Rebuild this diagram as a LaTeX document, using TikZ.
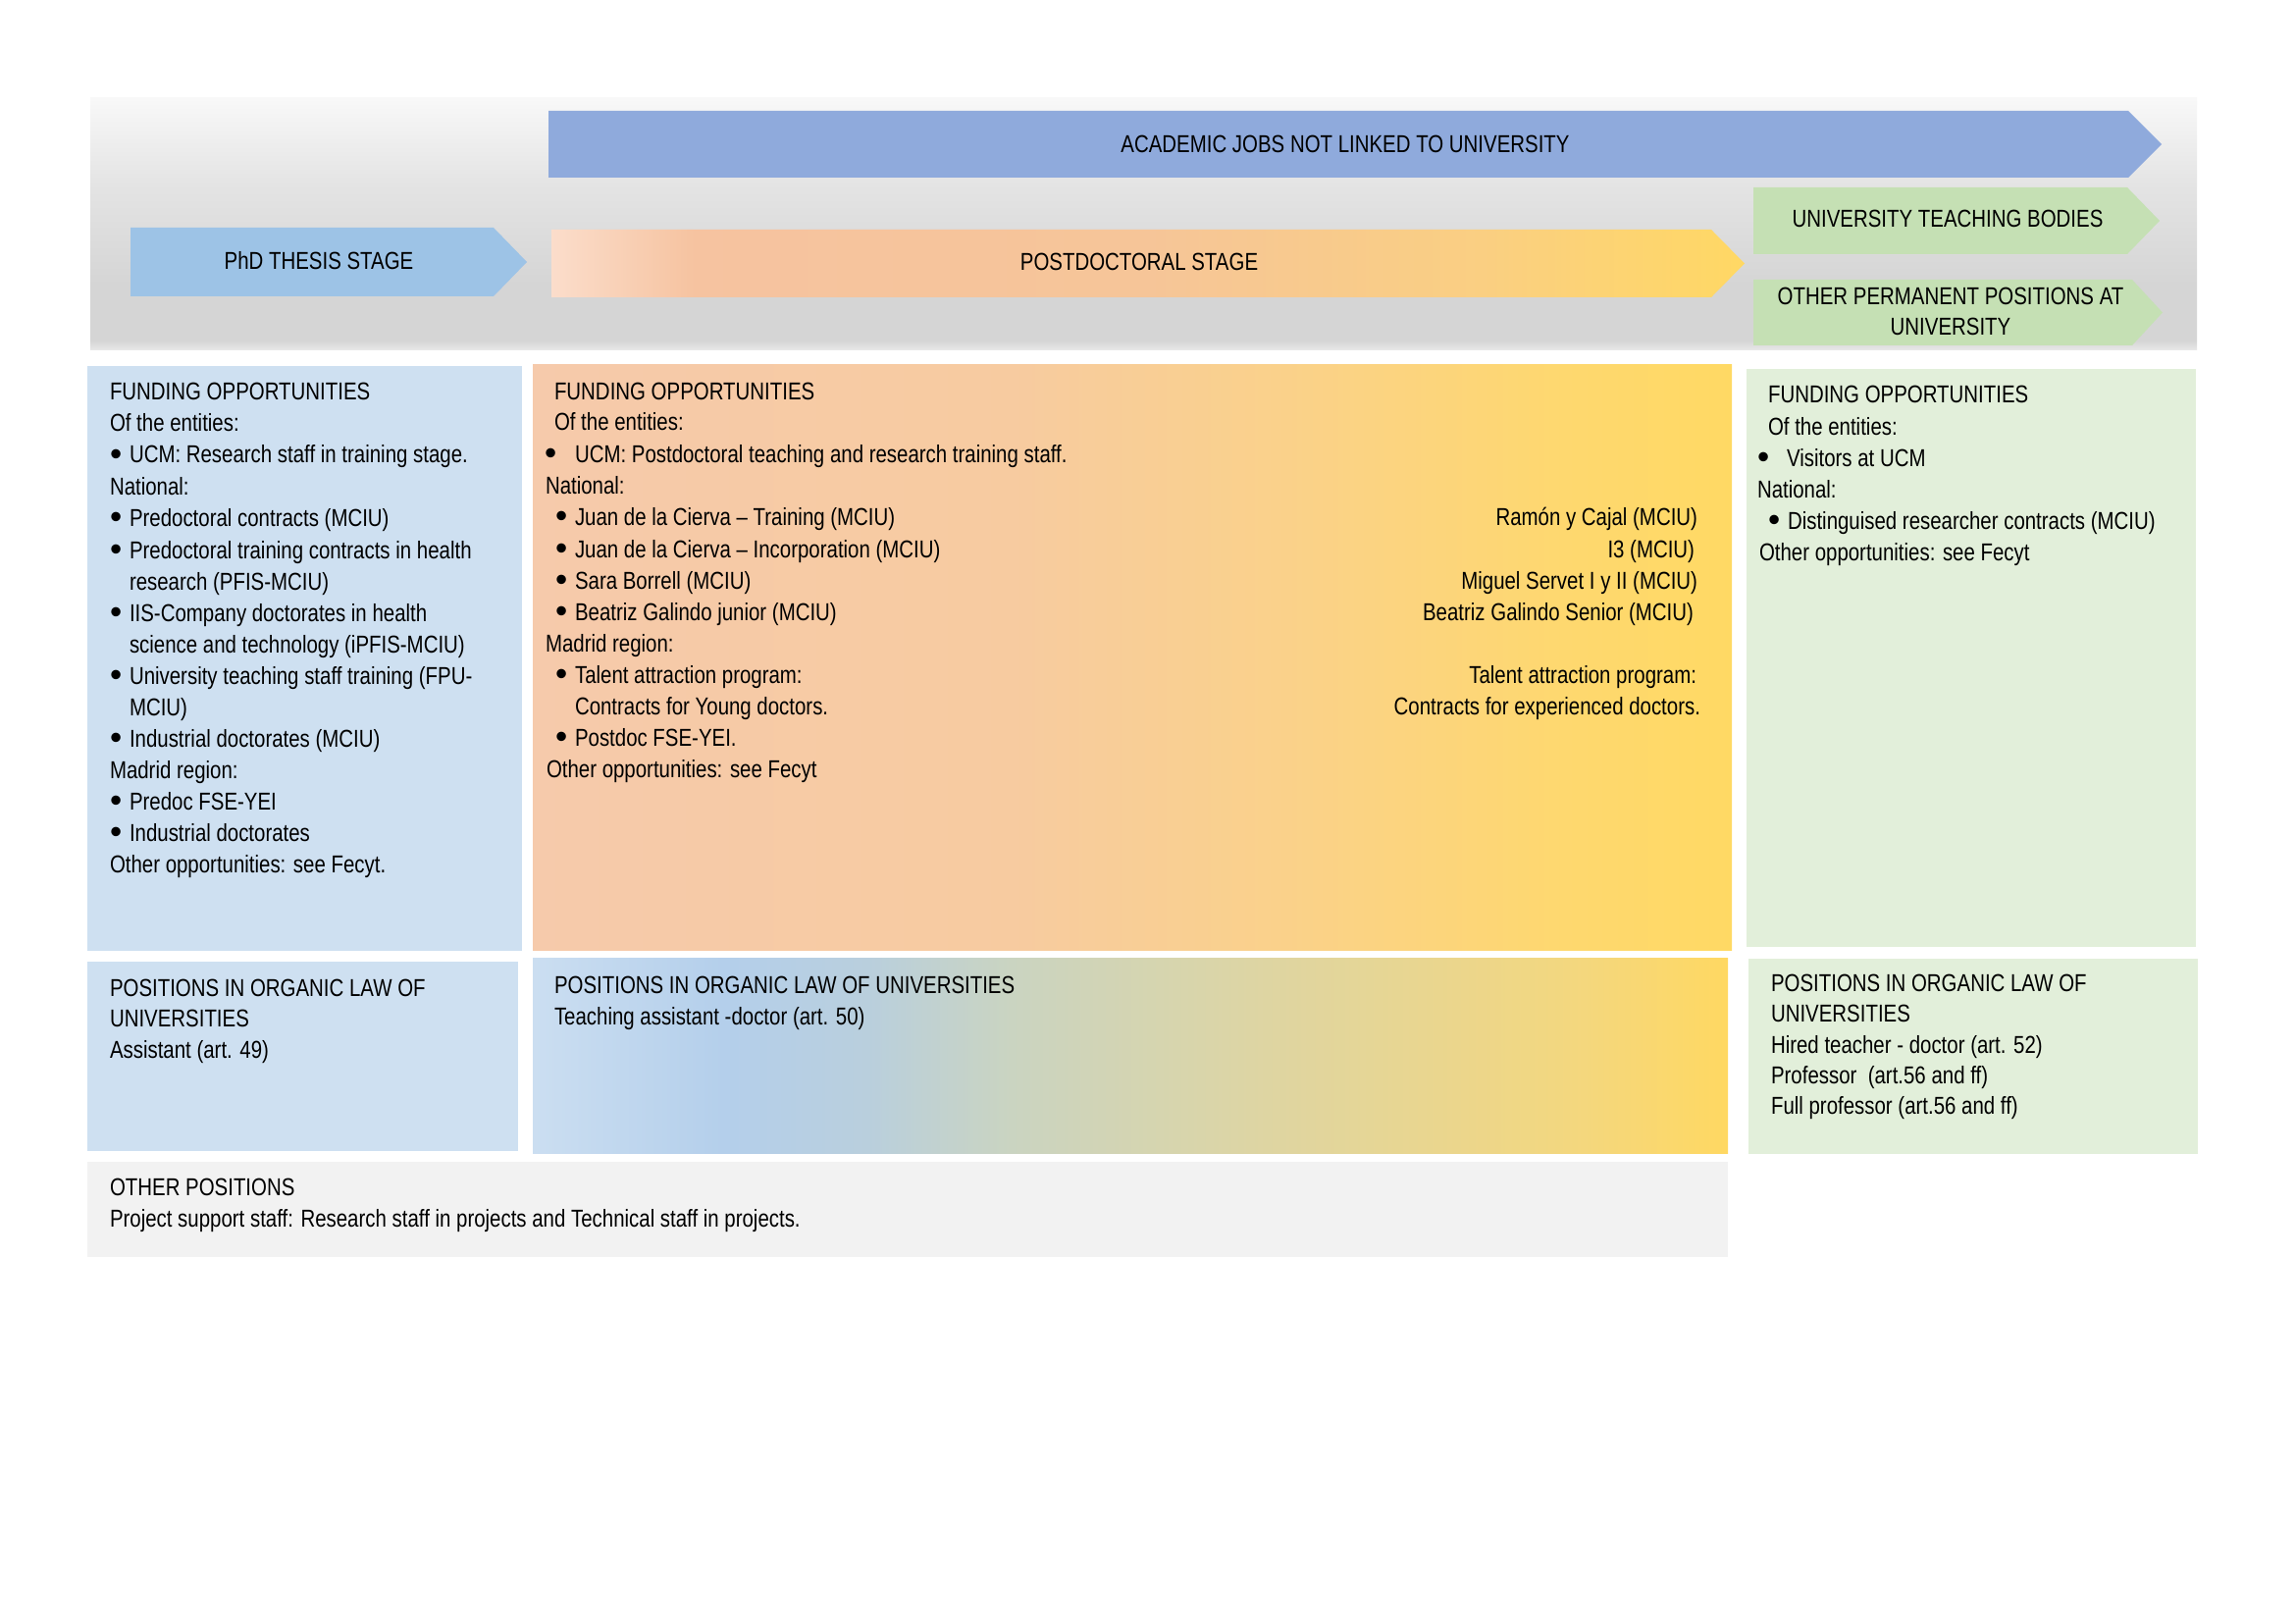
\documentclass[tikz,border=0pt]{standalone}
\usepackage{graphicx}
\usepackage{fontspec}
\setmainfont[FakeStretch=0.82]{Liberation Sans}
\definecolor{hTop}{HTML}{F8F8F8}
\definecolor{hMid}{HTML}{E4E4E4}
\definecolor{hDark}{HTML}{D5D5D5}
\definecolor{hBot}{HTML}{E9E9E9}
\definecolor{pdA}{HTML}{FBDDCB}
\definecolor{pdB}{HTML}{F6C3A0}
\definecolor{pdC}{HTML}{F6C598}
\definecolor{pdD}{HTML}{FACF82}
\definecolor{pdE}{HTML}{FFD864}
\definecolor{fbA}{HTML}{F6CAAB}
\definecolor{fbB}{HTML}{F7CBA0}
\definecolor{fbC}{HTML}{FAD18B}
\definecolor{fbD}{HTML}{FED86F}
\definecolor{fbE}{HTML}{FFD964}
\definecolor{pbA}{HTML}{CBDEF1}
\definecolor{pbB}{HTML}{B4CFEB}
\definecolor{pbC}{HTML}{B9CFDD}
\definecolor{pbD}{HTML}{CAD4C1}
\definecolor{pbE}{HTML}{DDD5A4}
\definecolor{pbF}{HTML}{F4D77D}
\definecolor{pbG}{HTML}{FFD862}
\definecolor{cAcad}{HTML}{8FAADC}
\definecolor{cPhd}{HTML}{9DC3E6}
\definecolor{cGreen}{HTML}{C5E0B4}
\definecolor{cBlueBox}{HTML}{CEE0F1}
\definecolor{cGreenBox}{HTML}{E2EFDA}
\definecolor{cGreyBox}{HTML}{F2F2F2}
\pgfdeclareverticalshading{hdrshade}{100bp}{color(0bp)=(hBot); color(25bp)=(hBot); color(27bp)=(hDark); color(38bp)=(hDark); color(58bp)=(hMid); color(75bp)=(hTop); color(100bp)=(hTop)}
\pgfdeclarehorizontalshading{pdshade}{100bp}{color(0bp)=(pdA); color(25bp)=(pdA); color(31bp)=(pdB); color(50bp)=(pdC); color(64bp)=(pdD); color(75bp)=(pdE); color(100bp)=(pdE)}
\pgfdeclarehorizontalshading{fbshade}{100bp}{color(0bp)=(fbA); color(25bp)=(fbA); color(45bp)=(fbB); color(56bp)=(fbC); color(68bp)=(fbD); color(75bp)=(fbE); color(100bp)=(fbE)}
\pgfdeclarehorizontalshading{pbshade}{100bp}{color(0bp)=(pbA); color(25bp)=(pbA); color(33bp)=(pbB); color(39bp)=(pbC); color(45bp)=(pbD); color(55bp)=(pbE); color(69bp)=(pbF); color(75bp)=(pbG); color(100bp)=(pbG)}
\newdimen\pxu \pxu=0.36129pt
\newcommand\bigbul{\raisebox{-0.9pt}{\scalebox{1.7}[1.4]{•}}}
\newcommand\bu[2]{\makebox[#1\pxu][l]{\bigbul}#2}
\begin{document}
\begin{tikzpicture}[x=0.012698cm,y=-0.012698cm,
  tx/.style={anchor=base west,inner sep=0pt,outer sep=0pt,font=\fontsize{9}{11.6}\selectfont,text=black},
  tr/.style={tx,anchor=base east},
  tc/.style={tx,anchor=base}]
\useasboundingbox (0,0) rectangle (2339,1654);
\fill[white] (0,0) rectangle (2339,1654);
% header background
\shade[shading=hdrshade] (92,100) rectangle (2239,357);
% arrows
\fill[cAcad] (559,113) -- (2169,113) -- (2203,147) -- (2169,181) -- (559,181) -- cycle;
\fill[cPhd] (133,232) -- (503,232) -- (537,267) -- (503,302) -- (133,302) -- cycle;
\shade[shading=pdshade] (562,234) -- (1744,234) -- (1778,268.5) -- (1744,303) -- (562,303) -- cycle;
\fill[cGreen] (1787,191) -- (2168,191) -- (2201,225) -- (2168,259) -- (1787,259) -- cycle;
\fill[cGreen] (1787,285) -- (2173,285) -- (2204,318.5) -- (2173,352) -- (1787,352) -- cycle;
\node[tc] (tAcad) at (1371,156) {ACADEMIC JOBS NOT LINKED TO UNIVERSITY};
\node[tc] (tPhd) at (325,275) {PhD THESIS STAGE};
\node[tc] (tPost) at (1161,276) {POSTDOCTORAL STAGE};
\node[tc] (tUtb) at (1985,232) {UNIVERSITY TEACHING BODIES};
\node[tc] (tOpa) at (1988,311) {OTHER PERMANENT POSITIONS AT};
\node[tc] (tOpb) at (1988,342) {UNIVERSITY};
% boxes
\fill[cBlueBox] (89,373) rectangle (532,969);
\shade[shading=fbshade] (543,372) rectangle (1765,968);
\fill[cGreenBox] (1780,376) rectangle (2238,965);
\fill[cBlueBox] (89,980) rectangle (528,1173);
\shade[shading=pbshade] (543,976) rectangle (1761,1175);
\fill[cGreenBox] (1782,977) rectangle (2240,1176);
\fill[cGreyBox] (89,1184) rectangle (1761,1281);
% funding A
\foreach \yy/\xx/\s [count=\i] in {
  408/112/{FUNDING OPPORTUNITIES},
  440/112/{Of the entities:},
  472/112/{\bu{20}{UCM: Research staff in training stage.}},
  504/112/{National:},
  536/112/{\bu{20}{Predoctoral contracts (MCIU)}},
  569/112/{\bu{20}{Predoctoral training contracts in health}},
  601/132/{research (PFIS-MCIU)},
  633/112/{\bu{20}{IIS-Company doctorates in health}},
  665/132/{science and technology (iPFIS-MCIU)},
  697/112/{\bu{20}{University teaching staff training (FPU-}},
  729/132/{MCIU)},
  761/112/{\bu{20}{Industrial doctorates (MCIU)}},
  793/112/{Madrid region:},
  825/112/{\bu{20}{Predoc FSE-YEI}},
  857/112/{\bu{20}{Industrial doctorates}},
  889/112/{Other opportunities: see Fecyt.}}
  \node[tx] (fa\i) at (\xx,\yy) {\s};
% funding B
\foreach \yy/\xx/\s [count=\i] in {
  407/565/{FUNDING OPPORTUNITIES},
  439/565/{Of the entities:},
  471/555/{\bu{31}{UCM: Postdoctoral teaching and research training staff.}},
  503/556/{National:},
  535/566/{\bu{20}{Juan de la Cierva – Training (MCIU)}},
  568/566/{\bu{20}{Juan de la Cierva – Incorporation (MCIU)}},
  600/566/{\bu{20}{Sara Borrell (MCIU)}},
  632/566/{\bu{20}{Beatriz Galindo junior (MCIU)}},
  664/556/{Madrid region:},
  696/566/{\bu{20}{Talent attraction program:}},
  728/586/{Contracts for Young doctors.},
  760/566/{\bu{20}{Postdoc FSE-YEI.}},
  792/557/{Other opportunities: see Fecyt}}
  \node[tx] (fb\i) at (\xx,\yy) {\s};
\foreach \yy/\xx/\s [count=\i] in {
  535/1730/{Ramón y Cajal (MCIU)},
  568/1727/{I3 (MCIU)},
  600/1730/{Miguel Servet I y II (MCIU)},
  632/1726/{Beatriz Galindo Senior (MCIU)},
  696/1729/{Talent attraction program:},
  728/1733/{Contracts for experienced doctors.}}
  \node[tr] (fr\i) at (\xx,\yy) {\s};
% funding C
\foreach \yy/\xx/\s [count=\i] in {
  411/1802/{FUNDING OPPORTUNITIES},
  443/1802/{Of the entities:},
  475/1791/{\bu{30}{Visitors at UCM}},
  507/1791/{National:},
  539/1802/{\bu{20}{Distinguised researcher contracts (MCIU)}},
  571/1793/{Other opportunities: see Fecyt}}
  \node[tx] (fc\i) at (\xx,\yy) {\s};
% positions A
\foreach \yy/\s [count=\i] in {
  1015/{POSITIONS IN ORGANIC LAW OF},
  1046/{UNIVERSITIES},
  1078/{Assistant (art. 49)}}
  \node[tx] (pa\i) at (112,\yy) {\s};
% positions B
\foreach \yy/\s [count=\i] in {
  1012/{POSITIONS IN ORGANIC LAW OF UNIVERSITIES},
  1044/{Teaching assistant -doctor (art. 50)}}
  \node[tx] (pb\i) at (565,\yy) {\s};
% positions C
\foreach \yy/\s [count=\i] in {
  1010/{POSITIONS IN ORGANIC LAW OF},
  1041/{UNIVERSITIES},
  1073/{Hired teacher - doctor (art. 52)},
  1104/{Professor\ \ (art.56 and ff)},
  1135/{Full professor (art.56 and ff)}}
  \node[tx] (pc\i) at (1805,\yy) {\s};
% other positions
\node[tx] (op1) at (112,1218) {OTHER POSITIONS};
\node[tx] (op2) at (112,1250) {Project support staff: Research staff in projects and Technical staff in projects.};
\end{tikzpicture}
\end{document}
